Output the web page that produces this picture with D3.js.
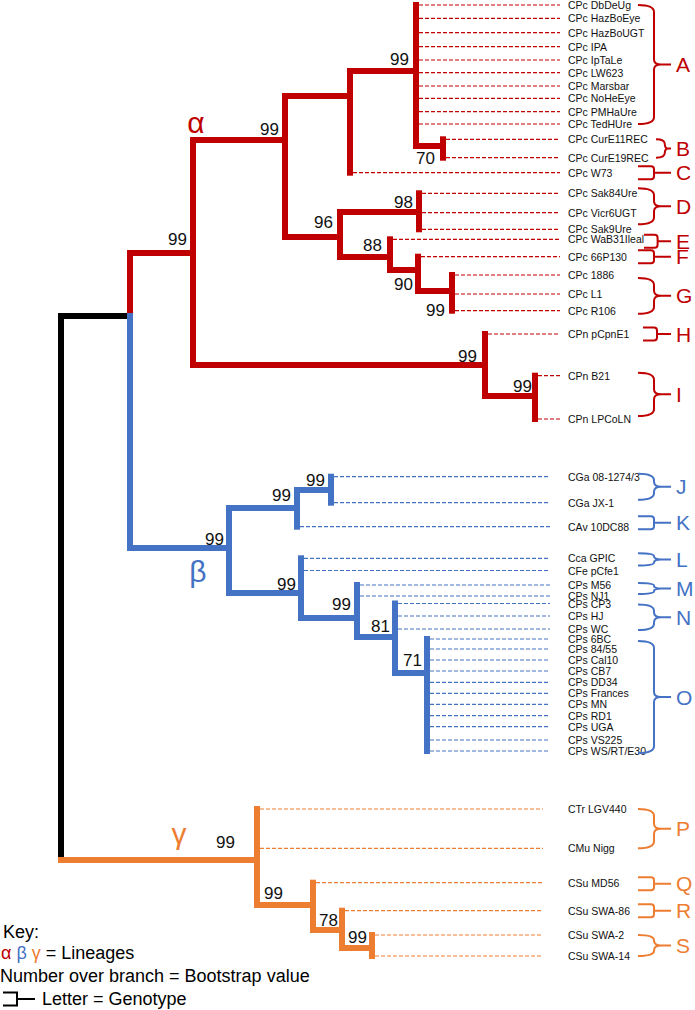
<!DOCTYPE html>
<html><head><meta charset="utf-8">
<script src="https://cdn.jsdelivr.net/npm/d3@7"></script>
<style>body{margin:0;background:#fff}svg{display:block}</style>
</head><body><svg id="c" width="695" height="1010"></svg>
<script>
// ---------- DATA ----------
// internal nodes (depth = relative branch distance, row = vertical position)
const nodeIds       = ["root","ab","alpha","n285","n350","nA","nB","n96","n98","n88","n90","nG","nHI","nI","beta","nJK","nJ","nLMNO","nMNO","nNO","nO","gamma","nQRS","nRS","nS"];
const nodeParents   = [null,"root","ab","alpha","n285","n350","nA","n285","n96","n96","n88","n90","alpha","nHI","ab","beta","nJK","beta","nLMNO","nMNO","nNO","root","gamma","nQRS","nRS"];
const nodeDepths    = [0,0.138,0.264,0.448,0.578,0.710,0.764,0.558,0.716,0.658,0.714,0.782,0.848,0.948,0.336,0.472,0.540,0.480,0.592,0.668,0.732,0.392,0.504,0.562,0.622];
const nodeRows      = [860,316,253,140,96,71,146,237,212,257,270,291,365,396,548,508,490,593,618,637,673,860,905,930,948];
const nodeBootstrap = [null,null,99,99,null,99,70,96,98,88,90,99,99,99,99,99,99,99,99,81,71,99,99,78,99];
const nodeLineage   = ["root","root","alpha","alpha","alpha","alpha","alpha","alpha","alpha","alpha","alpha","alpha","alpha","alpha","beta","beta","beta","beta","beta","beta","beta","gamma","gamma","gamma","gamma"];

// leaves (taxa)
const leafNames = ["CPc DbDeUg","CPc HazBoEye","CPc HazBoUGT","CPc IPA","CPc IpTaLe","CPc LW623","CPc Marsbar","CPc NoHeEye","CPc PMHaUre","CPc TedHUre",
  "CPc CurE11REC","CPc CurE19REC","CPc W73","CPc Sak84Ure","CPc Vicr6UGT","CPc Sak9Ure","CPc WaB31Ileal","CPc 66P130","CPc 1886","CPc L1","CPc R106",
  "CPn pCpnE1","CPn B21","CPn LPCoLN",
  "CGa 08-1274/3","CGa JX-1","CAv 10DC88","Cca GPIC","CFe pCfe1","CPs M56","CPs NJ1","CPs CP3","CPs HJ","CPs WC",
  "CPs 6BC","CPs 84/55","CPs Cal10","CPs CB7","CPs DD34","CPs Frances","CPs MN","CPs RD1","CPs UGA","CPs VS225","CPs WS/RT/E30",
  "CTr LGV440","CMu Nigg","CSu MD56","CSu SWA-86","CSu SWA-2","CSu SWA-14"];
const leafParents = ["nA","nA","nA","nA","nA","nA","nA","nA","nA","nA",
  "nB","nB","n350","n98","n98","n98","n88","n90","nG","nG","nG",
  "nHI","nI","nI",
  "nJ","nJ","nJK","nLMNO","nLMNO","nMNO","nMNO","nNO","nNO","nNO",
  "nO","nO","nO","nO","nO","nO","nO","nO","nO","nO","nO",
  "gamma","gamma","nQRS","nRS","nS","nS"];
const leafRows = [5,18.3,32.7,46.7,60,72.7,86,98.3,111.7,124,
  139.3,157.7,172.7,193.3,212.7,229.3,239.3,256.7,275,294,310.7,
  334,375.7,419,
  476.7,502.7,526.7,558.3,570.5,585,596,603.5,616,629,
  639,649,660,671,682.3,693.3,704.3,715.7,726.7,740,751,
  809,848.3,882.7,910.7,935,956];

// lineages
const lineageIds    = ["root","alpha","beta","gamma"];
const lineageSymbol = [null,"α","β","γ"];
const lineageTip    = [null,0.998,0.978,0.964];

// genotypes (bracketed groups of taxa)
const genotypeLetters = ["A","B","C","D","E","F","G","H","I","J","K","L","M","N","O","P","Q","R","S"];
const genotypeFirst   = ["CPc DbDeUg","CPc CurE11REC","CPc W73","CPc Sak84Ure","CPc WaB31Ileal","CPc 66P130","CPc 1886","CPn pCpnE1","CPn B21",
  "CGa 08-1274/3","CAv 10DC88","Cca GPIC","CPs M56","CPs CP3","CPs 6BC","CTr LGV440","CSu MD56","CSu SWA-86","CSu SWA-2"];
const genotypeLast    = ["CPc TedHUre","CPc CurE19REC","CPc W73","CPc Sak9Ure","CPc WaB31Ileal","CPc 66P130","CPc R106","CPn pCpnE1","CPn LPCoLN",
  "CGa JX-1","CAv 10DC88","CFe pCfe1","CPs NJ1","CPs WC","CPs WS/RT/E30","CMu Nigg","CSu MD56","CSu SWA-86","CSu SWA-14"];

const keyLines = ["Key:", "= Lineages", "Number over branch = Bootstrap value", "Letter = Genotype"];

// ---------- LAYOUT / STYLE ----------
const colors = {root:"#000000", alpha:"#C00000", beta:"#4472C4", gamma:"#ED7D31"};
const FONT = "'Liberation Sans', Arial, Helvetica, sans-serif";
const bootOffset = { // [dx, dy] of label relative to node
  nA:[-7,-12], nB:[-8,12], n285:[-6,-11], alpha:[-6,-13.5], n96:[-7,-15], n98:[-6,-9.5], n88:[-8,-12],
  n90:[-5,14.5], nG:[-7,19.5], nHI:[-8,-8.5], nI:[-3,-9.5], beta:[-5,-9], nJK:[-6,-13], nJ:[-6,-10],
  nLMNO:[-5,-8.5], nMNO:[-6,-13.5], nNO:[-5,-11], nO:[-5,-12.5], gamma:[-22,-18], nQRS:[-30,-12], nRS:[-4,-10], nS:[-5,-11]
};
const symbolPos = {alpha:[196,133], beta:[198,582], gamma:[179,844]};
const braceInset = {B:18, E:6, H:5};
const braceNudge = {D:-5, E:2, G:3, I:-3, J:-3, K:-4, L:-5, M:-2, N:1, O:2, Q:1};

const svg = d3.select("#c");
const x = d3.scaleLinear().domain([0,1]).range([61,561]);
const y = d3.scaleLinear().domain([0,1010]).range([0,1010]);
const col = d3.scaleOrdinal().domain(lineageIds).range(lineageIds.map(k=>colors[k]));

const nodes = new Map(nodeIds.map((id,i)=>[id,{id,parent:nodeParents[i],depth:nodeDepths[i],row:nodeRows[i],boot:nodeBootstrap[i],lin:nodeLineage[i]}]));
const leaves = leafNames.map((n,i)=>{const p=nodes.get(leafParents[i]);return {name:n,parent:p,row:leafRows[i],lin:p.lin};});
const leafByName = new Map(leaves.map(l=>[l.name,l]));

const gB = svg.append("g");
const order = ["root","alpha","beta","gamma"];
const internal = [...nodes.values()].filter(n=>n.parent).sort((a,b)=>order.indexOf(a.lin)-order.indexOf(b.lin));
gB.selectAll("path.br").data(internal).join("path")
  .attr("d",n=>{const p=nodes.get(n.parent);return `M${x(p.depth)},${y(p.row)}L${x(p.depth)},${y(n.row)}L${x(n.depth)},${y(n.row)}`;})
  .attr("fill","none").attr("stroke",n=>col(n.lin)).attr("stroke-width",6)
  .attr("stroke-linecap","square").attr("stroke-linejoin","miter");
gB.selectAll("path.lv").data(leaves).join("path")
  .attr("d",l=>`M${x(l.parent.depth)},${y(l.parent.row)}L${x(l.parent.depth)},${y(l.row)}`)
  .attr("fill","none").attr("stroke",l=>col(l.lin)).attr("stroke-width",6).attr("stroke-linecap","square");
gB.selectAll("path.tip").data(leaves).join("path")
  .attr("d",l=>`M${x(l.parent.depth)+3},${y(l.row)}L${x(lineageTip[lineageIds.indexOf(l.lin)])},${y(l.row)}`)
  .attr("fill","none").attr("stroke",l=>col(l.lin)).attr("stroke-width",1.2).attr("stroke-dasharray","4,2");

// leaf labels
svg.append("g").selectAll("text").data(leaves).join("text")
  .attr("x",x(1.014)).attr("y",l=>y(l.row)).attr("dominant-baseline","central")
  .attr("font-family",FONT).attr("font-size",10.5).attr("fill","#111").text(l=>l.name);

// bootstrap values
svg.append("g").selectAll("text").data(internal.filter(n=>n.boot!=null)).join("text")
  .attr("x",n=>x(n.depth)+bootOffset[n.id][0]).attr("y",n=>y(n.row)+bootOffset[n.id][1])
  .attr("text-anchor","end").attr("dominant-baseline","central")
  .attr("font-family",FONT).attr("font-size",17).attr("fill","#111").text(n=>n.boot);

// lineage symbols
["alpha","beta","gamma"].forEach(k=>{
  svg.append("text").attr("x",symbolPos[k][0]).attr("y",symbolPos[k][1]).attr("text-anchor","middle")
    .attr("font-family",FONT).attr("font-size",30).attr("fill",col(k)).text(lineageSymbol[lineageIds.indexOf(k)]);
});

// genotype braces
const X0=638,X1=654,X2=661,X3=671,XL=676;
genotypeLetters.forEach((g,i)=>{
  const a=leafByName.get(genotypeFirst[i]), b=leafByName.get(genotypeLast[i]);
  const single = a===b;
  const nud = braceNudge[g]||0;
  let top=y(a.row)+nud, bot=y(b.row)+nud;
  if(single){top-=6.5;bot+=6.5;}
  const mid=(top+bot)/2, c=col(a.lin);
  const off=braceInset[g]||0;
  const x0=X0+off, x1=X1+off*0.6, x2=Math.max(X2+off*0.4,x1+3);
  let d;
  if(single){
    const r=3;
    d=`M${x0},${top}L${x1-r},${top}Q${x1},${top} ${x1},${top+r}L${x1},${bot-r}Q${x1},${bot} ${x1-r},${bot}L${x0},${bot}M${x1},${mid}L${X3},${mid}`;
  } else {
    const r=Math.min(7,(mid-top)/2), r2=Math.min(5,(mid-top)/2);
    d=`M${x0},${top}Q${x1},${top} ${x1},${top+r}L${x1},${mid-r2}Q${x1},${mid} ${x2},${mid}Q${x1},${mid} ${x1},${mid+r2}L${x1},${bot-r}Q${x1},${bot} ${x0},${bot}M${x2},${mid}L${X3},${mid}`;
  }
  svg.append("path").attr("d",d).attr("fill","none").attr("stroke",c).attr("stroke-width",2);
  svg.append("text").attr("x",XL).attr("y",mid).attr("dominant-baseline","central")
    .attr("font-family",FONT).attr("font-size",21).attr("fill",c).text(g);
});

// key
const kg = svg.append("g").attr("font-family",FONT).attr("font-size",18).attr("fill","#000");
kg.append("text").attr("x",3).attr("y",932).attr("dominant-baseline","central").text(keyLines[0]);
const t2 = kg.append("text").attr("x",1).attr("y",953).attr("dominant-baseline","central");
["alpha","beta","gamma"].forEach(k=>t2.append("tspan").attr("fill",col(k)).text(lineageSymbol[lineageIds.indexOf(k)]+" "));
t2.append("tspan").text(keyLines[1]);
kg.append("text").attr("x",0).attr("y",976).attr("dominant-baseline","central").text(keyLines[2]);
kg.append("path").attr("d","M3,992.5L17,992.5L17,1005.5L3,1005.5M17,999L35,999").attr("fill","none").attr("stroke","#000").attr("stroke-width",2);
kg.append("text").attr("x",42).attr("y",999).attr("dominant-baseline","central").text(keyLines[3]);
</script></body></html>
